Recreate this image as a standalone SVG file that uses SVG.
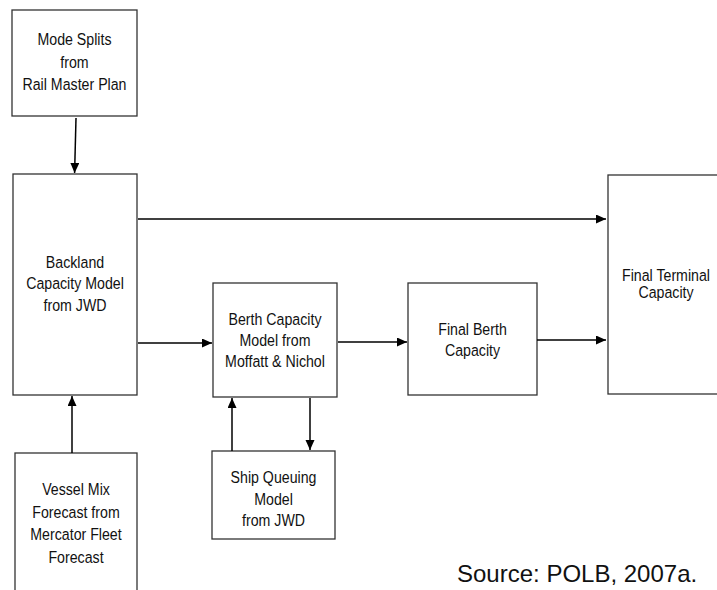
<svg xmlns="http://www.w3.org/2000/svg" width="717" height="590" viewBox="0 0 717 590">
<style>
.box{fill:#fff;stroke:#333;stroke-width:1.3}
.lbl{font-family:"Liberation Sans",Arial,sans-serif;font-size:16.5px;fill:#111;text-anchor:middle}
.con{stroke:#000;stroke-width:1.5;fill:none}
.src{font-family:"Liberation Sans",Arial,sans-serif;font-size:24px;fill:#111}
</style>
<defs>
<marker id="ah" markerUnits="userSpaceOnUse" markerWidth="12" markerHeight="10" refX="10" refY="4.5" orient="auto">
<path d="M0,0 L10,4.5 L0,9 z" fill="#000"/>
</marker>
</defs>
<rect width="717" height="590" fill="#fff"/>
<g id="mode-splits">
<rect class="box" x="12" y="10" width="125" height="106"/>
<text class="lbl" transform="matrix(0.86,0,0,1,74.5,0)"><tspan x="0" y="45.5">Mode Splits</tspan><tspan x="0" y="68">from</tspan><tspan x="0" y="90.5">Rail Master Plan</tspan></text>
</g>
<g id="backland">
<rect class="box" x="13" y="174" width="124" height="221"/>
<text class="lbl" transform="matrix(0.86,0,0,1,75,0)"><tspan x="0" y="268.3">Backland</tspan><tspan x="0" y="289.5">Capacity Model</tspan><tspan x="0" y="310.7">from JWD</tspan></text>
</g>
<g id="vessel-mix">
<rect class="box" x="15" y="453" width="122" height="150"/>
<text class="lbl" transform="matrix(0.86,0,0,1,76,0)"><tspan x="0" y="495">Vessel Mix</tspan><tspan x="0" y="517.7">Forecast from</tspan><tspan x="0" y="540">Mercator Fleet</tspan><tspan x="0" y="562.7">Forecast</tspan></text>
</g>
<g id="berth-capacity">
<rect class="box" x="213" y="283" width="124" height="114"/>
<text class="lbl" transform="matrix(0.86,0,0,1,275,0)"><tspan x="0" y="325">Berth Capacity</tspan><tspan x="0" y="346">Model from</tspan><tspan x="0" y="367.3">Moffatt &amp; Nichol</tspan></text>
</g>
<g id="ship-queuing">
<rect class="box" x="212" y="451" width="123" height="88"/>
<text class="lbl" transform="matrix(0.86,0,0,1,273.5,0)"><tspan x="0" y="483.3">Ship Queuing</tspan><tspan x="0" y="505">Model</tspan><tspan x="0" y="526.5">from JWD</tspan></text>
</g>
<g id="final-berth">
<rect class="box" x="408" y="283" width="129" height="112"/>
<text class="lbl" transform="matrix(0.86,0,0,1,472.5,0)"><tspan x="0" y="335">Final Berth</tspan><tspan x="0" y="356">Capacity</tspan></text>
</g>
<g id="final-terminal">
<rect class="box" x="608" y="175" width="130" height="219"/>
<text class="lbl" transform="matrix(0.86,0,0,1,666,0)"><tspan x="0" y="280.7">Final Terminal</tspan><tspan x="0" y="298.5">Capacity</tspan></text>
</g>
<g id="connectors">
<line class="con" x1="76" y1="118" x2="74.6" y2="173" marker-end="url(#ah)"/>
<line class="con" x1="72" y1="453" x2="72" y2="396" marker-end="url(#ah)"/>
<line class="con" x1="138" y1="219" x2="606" y2="219" marker-end="url(#ah)"/>
<line class="con" x1="138" y1="343" x2="212" y2="343" marker-end="url(#ah)"/>
<line class="con" x1="338" y1="342" x2="407" y2="342" marker-end="url(#ah)"/>
<line class="con" x1="537" y1="340" x2="606" y2="340" marker-end="url(#ah)"/>
<line class="con" x1="232" y1="451" x2="232" y2="398" marker-end="url(#ah)"/>
<line class="con" x1="310" y1="398" x2="310" y2="450" marker-end="url(#ah)"/>
</g>
<text class="src" x="457" y="582.3">Source: POLB, 2007a.</text>
</svg>
